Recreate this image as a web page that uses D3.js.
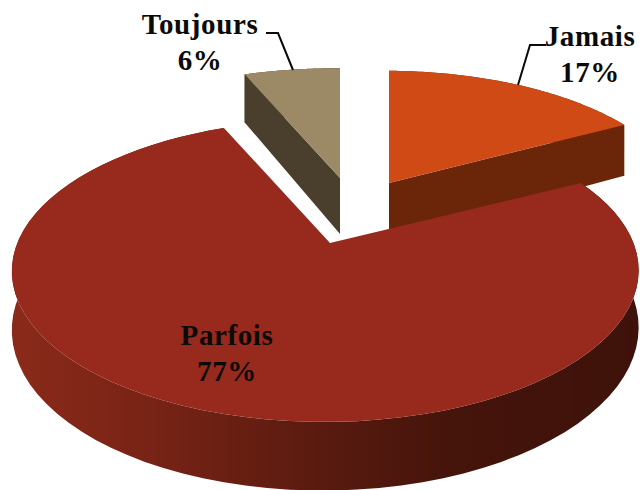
<!DOCTYPE html>
<html><head><meta charset="utf-8">
<script src="https://cdn.jsdelivr.net/npm/d3@7/dist/d3.min.js"></script>
<style>html,body{margin:0;padding:0;background:#fff}svg{display:block}text{font-family:"Liberation Serif",serif;font-weight:700;font-size:29px;letter-spacing:0.6px;fill:#0a0a0a;text-anchor:middle}</style>
</head><body><div id="c"></div>
<script>
const categories = ["Jamais","Parfois","Toujours"];
const values = [17,77,6];
const topColors = ["#d04a15","#98291d","#9c8a67"];
const sideColors = ["#6b2508","#5e1c10","#4a3f2c"];

const W=640,H=490,R=308,S=146,K=0.184,KX=0.015,DEPTH=56;
const layout = {
  Jamais:{ax:389,ay:183,sx:0.96,sy:0.91,trim:0,label:[590,46],leader:[[546,45],[530,45],[518,85]]},
  Parfois:{ax:330,ay:243,sx:1,sy:1,trim:0.035,label:[227,345]},
  Toujours:{ax:340,ay:178,sx:0.98,sy:0.89,trim:0,label:[200,34],leader:[[266,33],[278,33],[293,70]]}
};
const svg=d3.select("#c").append("svg").attr("width",W).attr("height",H);
const defs=svg.append("defs");
const g=defs.append("linearGradient").attr("id","pSide");
[[0,"#8a2a1a"],[0.2,"#7a2416"],[0.45,"#5e1c10"],[0.7,"#45140b"],[1,"#3e120a"]].forEach(d=>g.append("stop").attr("offset",d[0]).attr("stop-color",d[1]));

const arcs=d3.pie().sort(null).value(d=>d)(values);
const line=d3.line();
function proj(l,a,r,z){
  const u=r*Math.sin(a),v=r*Math.cos(a),w=1+K*v+KX*u;
  return [l.ax+l.sx*R*u/w, l.ay-l.sy*S*v/w+z*DEPTH/w];
}
function arcPts(l,a0,a1,z){
  return d3.range(0,81).map(i=>proj(l,a0+(a1-a0)*i/80,1,z));
}
const order=[2,0,1];
order.forEach(i=>{
  const d=arcs[i],l=layout[categories[i]];
  const a0=d.startAngle+l.trim,a1=d.endAngle-l.trim;
  const gr=svg.append("g");
  const topArc=arcPts(l,a0,a1,0),botArc=arcPts(l,a0,a1,1);
  const fill=i===1?"url(#pSide)":sideColors[i];
  gr.append("path").attr("d",line(topArc.concat(botArc.slice().reverse()))+"Z").attr("fill",fill);
  [a0,a1].forEach(a=>{
    const p=[proj(l,a,0,0),proj(l,a,1,0),proj(l,a,1,1),proj(l,a,0,1)];
    if(i!==1) gr.append("path").attr("d",line(p)+"Z").attr("fill",fill);
  });
  gr.append("path").attr("d",line([proj(l,0,0,0)].concat(topArc))+"Z").attr("fill",topColors[i]);
});
categories.forEach((c,i)=>{
  const l=layout[c];
  if(l.leader) svg.append("path").attr("d",line(l.leader)).attr("fill","none").attr("stroke","#0a0a0a").attr("stroke-width",2);
  const t=svg.append("text").attr("x",l.label[0]).attr("y",l.label[1]);
  t.append("tspan").attr("x",l.label[0]).text(c);
  t.append("tspan").attr("x",l.label[0]).attr("dy",36).text(values[i]+"%");
});
</script></body></html>
